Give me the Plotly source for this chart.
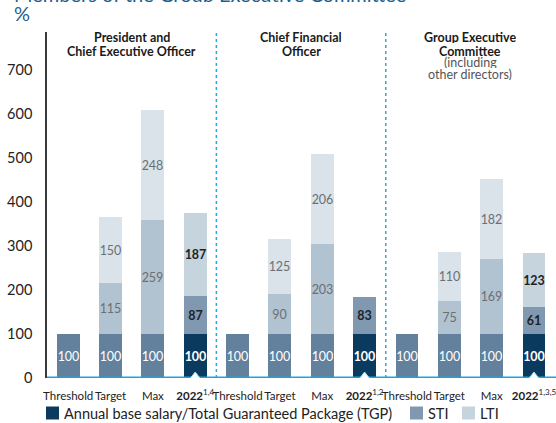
import plotly.graph_objects as go

# Pay-mix scenarios (% of annual base salary / TGP)
scenarios = ["Threshold", "Target", "Max", "2022"]
roles = ["CEO", "CFO", "GEC"]
footnotes = ["1,4", "1,2", "1,3,5"]

tgp_ceo = [100, 100, 100, 100]
sti_ceo = [None, 115, 259, 87]
lti_ceo = [None, 150, 248, 187]

tgp_cfo = [100, 100, 100, 100]
sti_cfo = [None, 90, 203, 83]
lti_cfo = [None, 125, 206, None]

tgp_gec = [100, 100, 100, 100]
sti_gec = [None, 75, 169, 61]
lti_gec = [None, 110, 182, 123]

header_lines = [
    [("President and", True), ("Chief Executive Officer", True)],
    [("Chief Financial", True), ("Officer", True)],
    [("Group Executive", True), ("Committee", True),
     ("(including", False), ("other directors)", False)],
]

tgp = [tgp_ceo, tgp_cfo, tgp_gec]
sti = [sti_ceo, sti_cfo, sti_gec]
lti = [lti_ceo, lti_cfo, lti_gec]

FONT = "Lato"
C_PLAN = ["#63819d", "#b1c2d0", "#d9e3e9"]
C_ACT = ["#0b3a5f", "#8099b0", "#c5d4dd"]
NAMES = ["Annual base salary/Total Guaranteed Package (TGP)", "STI", "LTI"]

# plot-area geometry in pixels (used to place the header, title and key)
W, H = 556, 423
ML, MR, MT, MB = 47, 0, 32, 45
PW, PH = W - ML - MR, H - MT - MB


def px_x(p):
    return (p - ML) / PW


def px_y(p):
    return (H - MB - p) / PH


n = len(scenarios)
plan_x, act_x = [], []
plan_vals = [[], [], []]
act_vals = [[], [], []]
for g in range(len(roles)):
    for k in range(n):
        xi = g * n + k
        comps = [tgp[g][k], sti[g][k], lti[g][k]]
        if scenarios[k] == "2022":
            act_x.append(xi)
            for c in range(3):
                act_vals[c].append(comps[c])
        else:
            plan_x.append(xi)
            for c in range(3):
                plan_vals[c].append(comps[c])


def labels(vals, bold=False):
    out = []
    for v in vals:
        if v is None:
            out.append("")
        else:
            out.append(f"<b>{v}</b>" if bold else str(v))
    return out


fig = go.Figure()
plan_text_col = ["white", "#6b7075", "#6b7075"]
for c in range(3):
    fig.add_trace(go.Bar(
        x=plan_x, y=plan_vals[c], name=NAMES[c], showlegend=False,
        marker=dict(color=C_PLAN[c], line=dict(width=0)),
        text=labels(plan_vals[c]), textposition="inside",
        insidetextanchor="middle", textangle=0,
        textfont=dict(family=FONT, size=12.5, color=plan_text_col[c]),
        width=0.54, hoverinfo="skip",
    ))
act_text_col = ["white", "#1d2329", "#1d2329"]
for c in range(3):
    fig.add_trace(go.Bar(
        x=act_x, y=act_vals[c], name=NAMES[c], showlegend=False,
        marker=dict(color=C_ACT[c], line=dict(width=0)),
        text=labels(act_vals[c], bold=True),
        textposition="inside", insidetextanchor="middle", textangle=0,
        textfont=dict(family=FONT, size=12.5, color=act_text_col[c]),
        width=0.54, hoverinfo="skip",
    ))

tickvals, ticktext = [], []
for g in range(len(roles)):
    for k, s in enumerate(scenarios):
        tickvals.append(g * n + k)
        if s == "2022":
            ticktext.append(f"<b>{s}</b><sup>{footnotes[g]}</sup>")
        else:
            ticktext.append(s)

shapes = []
# dotted separators between roles
for g in range(1, len(roles)):
    shapes.append(dict(type="line", xref="x", yref="paper",
                       x0=g * n - 0.5, x1=g * n - 0.5, y0=0, y1=1,
                       line=dict(color="#2aa9e0", width=1.5, dash="dot"),
                       layer="above"))
# baseline
shapes.append(dict(type="line", xref="paper", yref="y", x0=0, x1=1, y0=0, y1=0,
                   line=dict(color="#1aa3dc", width=3), layer="above"))
# notch under each actual bar
for xi in act_x:
    shapes.append(dict(type="path", xref="x", yref="y", xsizemode="pixel",
                       ysizemode="pixel", xanchor=xi, yanchor=0,
                       path="M-11,-8 L0,6 L11,-8 Z",
                       fillcolor="white", line=dict(width=0), layer="above"))
    shapes.append(dict(type="path", xref="x", yref="y", xsizemode="pixel",
                       ysizemode="pixel", xanchor=xi, yanchor=0,
                       path="M-11,-8 L0,6 L11,-8",
                       line=dict(color="#a8dbe6", width=1), layer="above"))

annotations = []
line_tops = [37.5, 50.5, 62, 74]
for g, lines in enumerate(header_lines):
    for i, (txt, bold) in enumerate(lines):
        annotations.append(dict(
            xref="x", yref="paper", x=g * n + (n - 1) / 2,
            y=px_y(line_tops[i]), yanchor="middle", xanchor="center",
            text=f"<b>{txt}</b>" if bold else txt, showarrow=False,
            height=12, valign="middle",
            font=dict(family=FONT, size=12.5,
                      color="#1a1a1a" if bold else "#555555"),
        ))
annotations.append(dict(xref="paper", yref="paper", x=px_x(12),
                        y=px_y(-6), xanchor="left", yanchor="middle",
                        text="Members of the Group Executive Committee",
                        showarrow=False, height=16, valign="middle",
                        font=dict(family=FONT, size=20, color="#1d5f8d")))
annotations.append(dict(xref="paper", yref="paper", x=px_x(12),
                        y=px_y(13), xanchor="left", yanchor="middle",
                        text="%", showarrow=False, height=16, valign="middle",
                        font=dict(family=FONT, size=20, color="#1d5f8d")))

# colour key below the chart
key_cols = C_ACT
key_left = [46, 410, 462]
key_y = 413
for col, left, name in zip(key_cols, key_left, NAMES):
    shapes.append(dict(type="rect", xref="paper", yref="paper",
                       x0=px_x(left), x1=px_x(left + 13),
                       y0=px_y(key_y + 6.5), y1=px_y(key_y - 6.5),
                       fillcolor=col, line=dict(width=0)))
    annotations.append(dict(xref="paper", yref="paper", x=px_x(left + 16),
                            y=px_y(key_y), xanchor="left", yanchor="middle",
                            text=name, showarrow=False,
                            font=dict(family=FONT, size=14.5, color="#222")))

fig.update_layout(
    width=W, height=H,
    margin=dict(l=ML, r=MR, t=MT, b=MB),
    paper_bgcolor="white", plot_bgcolor="white",
    barmode="stack", bargap=0, showlegend=False,
    font=dict(family=FONT, color="#222222"),
    uniformtext=dict(minsize=12.5, mode="show"),
    xaxis=dict(range=[-0.5, len(roles) * n - 0.48], tickvals=tickvals,
               ticktext=ticktext, showgrid=False, zeroline=False,
               showline=False, ticks="", tickangle=0, ticklabelstandoff=9,
               ticklabeloverflow="allow",
               tickfont=dict(size=11.5, color="#222"), fixedrange=True),
    yaxis=dict(range=[0, 785], tickvals=[0, 100, 200, 300, 400, 500, 600, 700],
               showgrid=False, zeroline=False, showline=True,
               linecolor="#3a3a3a", linewidth=1.5, ticks="",
               ticklabelstandoff=10, tickfont=dict(size=14.5, color="#222"),
               fixedrange=True),
    shapes=shapes, annotations=annotations,
)

fig.write_html("out.html")
